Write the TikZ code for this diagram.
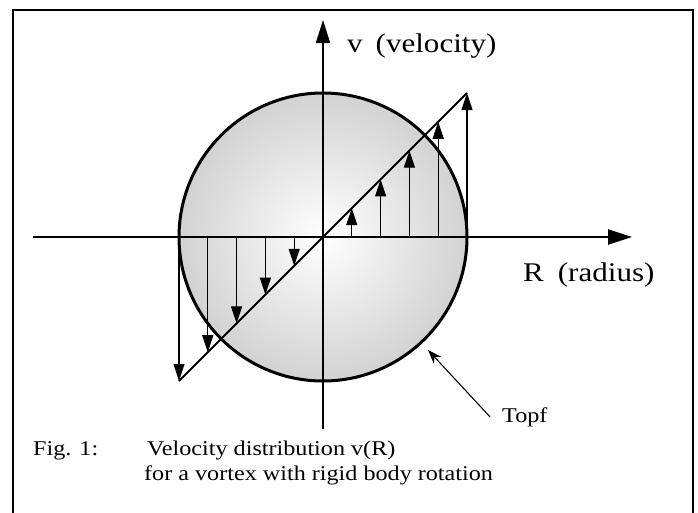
\documentclass[tikz,border=0pt]{standalone}
\usepackage{fontspec}
\setmainfont{Liberation Serif}
\newfontfamily\axisfont[FakeStretch=1.15]{Liberation Serif}
\newfontfamily\capfont[FakeStretch=1.15]{Liberation Serif}
\usetikzlibrary{arrows.meta, positioning, calc}
\definecolor{potgray}{RGB}{210,210,210}
\tikzset{
  frame/.style={line width=2pt, line cap=rect},
  axis/.style={-{Triangle[length=24pt, width=15pt]}, line width=2.6pt},
  vaxis/.style={-{Triangle[length=23pt, width=14pt]}, line width=1.8pt},
  varr/.style={-{Triangle[length=17pt, width=11pt]}, line width=1.1pt},
  ptrarr/.style={-{Stealth[length=14pt, width=10pt]}, line width=1.1pt},
  lbl/.style={font=\axisfont\fontsize{27}{31}\selectfont, inner sep=0pt,
              anchor=base west},
  captxt/.style={font=\capfont\fontsize{21}{25}\selectfont, inner sep=0pt,
              anchor=base west},
}
\begin{document}
\begin{tikzpicture}[x=1pt, y=-1pt]
  \useasboundingbox (0,0) rectangle (698,512);
  % frame
  \draw[frame] (13,512) -- (13,10) -- (693,10) -- (693,512);

  % pot
  \coordinate (O) at (323,237);
  \draw[line width=3pt, inner color=white, outer color=potgray]
    (O) circle[radius=144];

  % axes
  \coordinate (xl) at (33,237);
  \coordinate (xr) at (632,237);
  \coordinate (yb) at (323,429);
  \coordinate (yt) at (323,20);
  \draw[axis] (xl) -- (xr);
  \draw[vaxis] (yb) -- (yt);

  % velocity profile
  \coordinate (pl) at (179,381);
  \coordinate (pr) at (467,93);
  \draw[line width=1.8pt] (pl) -- (pr);
  \foreach \k in {1,...,5} {
    \coordinate (r\k) at ($(O)+(28.8*\k,0)$);
    \coordinate (rt\k) at ($(O)+(28.8*\k,-28.8*\k)$);
    \coordinate (l\k) at ($(O)+(-28.8*\k,0)$);
    \coordinate (lt\k) at ($(O)+(-28.8*\k,28.8*\k)$);
    \draw[varr] (r\k) -- (rt\k);
    \draw[varr] (l\k) -- (lt\k);
  }

  % axis labels
  \node[lbl] (vlab) at (347,52) {v\hspace{13pt}(velocity)};
  \node[lbl] (rlab) at (523,281) {R\hspace{14pt}(radius)};

  % pot label
  \coordinate (ptr) at (428,350);
  \node[captxt] (topf) at (502,422) {Topf};
  \draw[ptrarr] ($(topf.west)+(-12,0)$) -- (ptr);

  % caption
  \node[captxt] (fig) at (33,455) {Fig. 1:};
  \node[captxt] (cap1) at (147,455) {Velocity distribution v(R)};
  \node[captxt] (cap2) at (144,480) {for a vortex with rigid body rotation};
\end{tikzpicture}
\end{document}
